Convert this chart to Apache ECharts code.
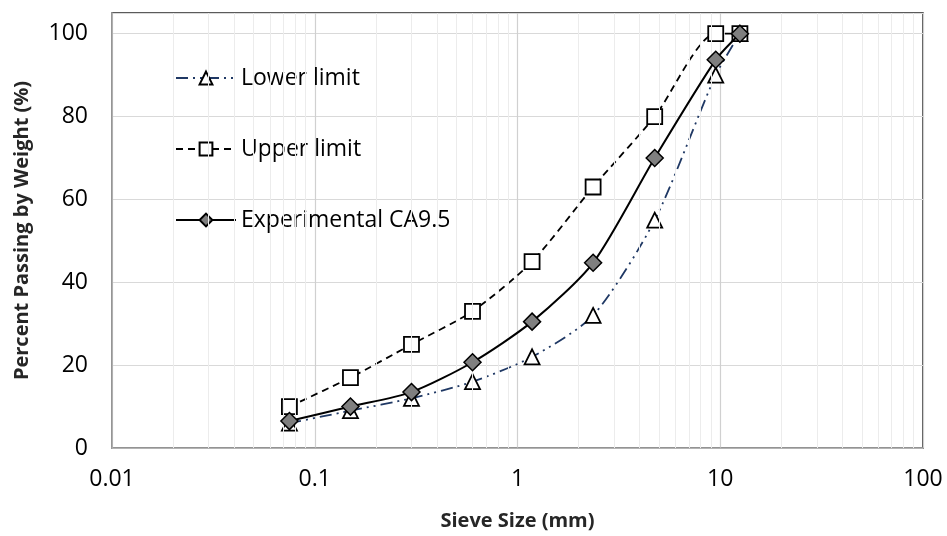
<!DOCTYPE html>
<html>
<head>
<meta charset="utf-8">
<script src="https://cdn.jsdelivr.net/npm/echarts@6/dist/echarts.min.js"></script>
<style>
  html, body { margin: 0; padding: 0; background: #fff; }
  #chart { width: 947px; height: 536px; }
</style>
</head>
<body>
<div id="chart"></div>
<script>
// sieve sizes (mm)
const sieveSizes = [0.075, 0.15, 0.3, 0.6, 1.18, 2.36, 4.75, 9.5, 12.5];
const lowerLimit = [6, 9, 12, 16, 22, 32, 55, 90, 100];
const upperLimit = [10, 17, 25, 33, 45, 63, 80, 100, 100];
const experimental = [6.5, 10, 13.5, 20.7, 30.5, 44.7, 70, 93.7, 100];
const yTicks = [0, 20, 40, 60, 80, 100];
// minor vertical grid lines (2..9 in each decade)
const minorGrid = [];
[0.01, 0.1, 1, 10].forEach(d => {
  for (let k = 2; k <= 9; k++) minorGrid.push(+(d * k).toPrecision(3));
});

const font = '"Open Sans", "Liberation Sans", sans-serif';
const pairs = (ys) => sieveSizes.map((x, i) => [x, ys[i]]);

const chart = echarts.init(document.getElementById('chart'));
chart.setOption({
  animation: false,
  grid: {
    left: 112, right: 24, top: 13, bottom: 88,
    show: true, borderColor: '#262626', borderWidth: 1.5
  },
  legend: {
    orient: 'vertical',
    left: 170, top: 59,
    itemGap: 43,
    itemWidth: 60, itemHeight: 16,
    textStyle: { fontFamily: font, fontSize: 23, lineHeight: 28, color: '#000' },
    data: ['Lower limit', 'Upper limit', 'Experimental CA9.5']
  },
  xAxis: {
    type: 'log',
    logBase: 10,
    min: 0.01, max: 100,
    name: 'Sieve Size (mm)',
    nameLocation: 'middle',
    nameGap: 63,
    nameTextStyle: { fontFamily: font, fontSize: 20, fontWeight: 'bold', color: '#262626' },
    axisLine: { lineStyle: { color: '#a6a6a6', width: 1.5 } },
    axisTick: { show: false },
    axisLabel: { fontFamily: font, fontSize: 23, color: '#000', margin: 20 },
    splitLine: { show: true, lineStyle: { color: '#d0d0d0', width: 1.2 } }
  },
  yAxis: {
    type: 'value',
    min: 0, max: 105, interval: 20,
    name: 'Percent Passing by Weight (%)',
    nameLocation: 'middle',
    nameGap: 80,
    nameTextStyle: { fontFamily: font, fontSize: 20, fontWeight: 'bold', color: '#262626' },
    axisLine: { show: true, lineStyle: { color: '#a6a6a6', width: 1.5 } },
    axisTick: { show: false },
    axisLabel: {
      fontFamily: font, fontSize: 23, color: '#000', margin: 24,
      formatter: v => yTicks.indexOf(v) >= 0 ? String(v) : ''
    },
    splitLine: { show: true, lineStyle: { color: '#d9d9d9', width: 1.2 } }
  },
  series: [
    {
      name: 'Lower limit',
      type: 'line',
      data: pairs(lowerLimit),
      smooth: 0.25,
      symbol: 'triangle',
      symbolSize: 15,
      itemStyle: { color: '#fff', borderColor: '#000', borderWidth: 1.8 },
      lineStyle: { color: '#1f3864', width: 1.8, type: [12, 5, 2, 5, 2, 5] },
      z: 3,
      markLine: {
        silent: true,
        symbol: 'none',
        label: { show: false },
        lineStyle: { color: '#ececec', width: 1, type: 'solid' },
        data: minorGrid.map(v => ({ xAxis: v }))
      }
    },
    {
      name: 'Upper limit',
      type: 'line',
      data: pairs(upperLimit),
      smooth: 0.25,
      symbol: 'rect',
      symbolSize: 15,
      itemStyle: { color: '#fff', borderColor: '#000', borderWidth: 1.8 },
      lineStyle: { color: '#000', width: 1.8, type: [7, 5] },
      z: 4
    },
    {
      name: 'Experimental CA9.5',
      type: 'line',
      data: pairs(experimental),
      smooth: 0.25,
      symbol: 'diamond',
      symbolSize: 17,
      itemStyle: { color: '#7f7f7f', borderColor: '#000', borderWidth: 1.5 },
      lineStyle: { color: '#000', width: 2 },
      z: 5
    }
  ]
});
</script>
</body>
</html>
